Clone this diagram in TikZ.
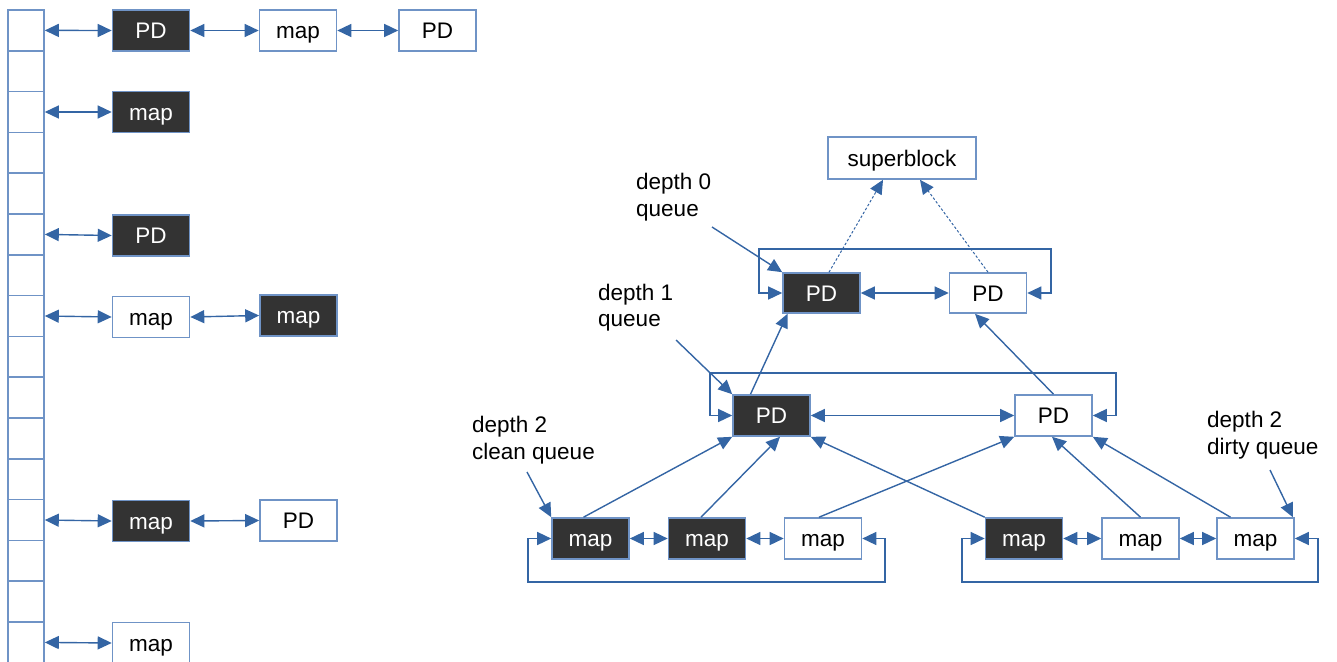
\documentclass[tikz,border=0pt]{standalone}
\usepackage{fontspec}
\setmainfont{Liberation Sans}
\usetikzlibrary{arrows.meta,calc}
\definecolor{ln}{HTML}{3465A4}
\definecolor{bd}{HTML}{6F93C6}
\definecolor{dk}{HTML}{333333}
\tikzset{
 box/.style={draw=bd, line width=1.6pt, minimum width=77pt, minimum height=41pt, inner sep=0pt, text height=18pt, text depth=2pt, font=\fontsize{22.5}{27}\selectfont},
 wbox/.style={box, fill=white, text=black},
 dbox/.style={box, fill=dk, text=white},
 cell/.style={draw=bd, line width=1.6pt, minimum width=36pt, minimum height=40.8pt, inner sep=0pt},
 tip/.tip={Triangle[length=14pt,width=13pt]},
 arr/.style={draw=ln, line width=1.4pt, -tip},
 darr/.style={draw=ln, line width=1.4pt, tip-tip},
 dsharr/.style={draw=ln, line width=1pt, dash pattern=on 2.5pt off 2pt, -tip},
 lbl/.style={align=left, anchor=west, inner sep=0pt, font=\fontsize{22.5}{26.5}\selectfont}
}
\begin{document}
\begin{tikzpicture}[x=1pt,y=-1pt]
\useasboundingbox (0,0) rectangle (1337,661);
\clip (0,0) rectangle (1337,661);
% left column
\foreach \i in {0,...,16} { \node[cell] (c\i) at (26,30.4+40.8*\i) {}; }
\node[dbox] (a1) at (151,30.5) {PD};
\node[wbox] (a2) at (298,30.5) {map};
\node[wbox] (a3) at (437.5,30.5) {PD};
\node[dbox] (b1) at (151,112) {map};
\node[dbox] (d1) at (151,235.5) {PD};
\node[wbox] (e1) at (151,317) {map};
\node[dbox] (e2) at (298.5,315.5) {map};
\node[dbox] (f1) at (151,521) {map};
\node[wbox] (f2) at (298.5,520.5) {PD};
\node[wbox] (g1) at (151,643) {map};
\draw[darr] (c0.east) -- (a1.west);
\draw[darr] (a1.east) -- (a2.west);
\draw[darr] (a2.east) -- (a3.west);
\draw[darr] (c2.east) -- (b1.west);
\draw[darr] (c5.east) -- (d1.west);
\draw[darr] (c7.east) -- (e1.west);
\draw[darr] (e1.east) -- (e2.west);
\draw[darr] (c12.east) -- (f1.west);
\draw[darr] (f1.east) -- (f2.west);
\draw[darr] (c15.east) -- (g1.west);
% right diagram
\node[wbox, minimum width=148pt, minimum height=42pt] (sb) at (902,158) {superblock};
\node[dbox, minimum height=40pt] (p0a) at (821.5,293) {PD};
\node[wbox, minimum height=40pt] (p0b) at (988,293) {PD};
\node[dbox] (p1a) at (771.5,415.5) {PD};
\node[wbox] (p1b) at (1053.5,415.5) {PD};
\node[dbox] (m1) at (590.5,538.5) {map};
\node[dbox] (m2) at (707,538.5) {map};
\node[wbox] (m3) at (823,538.5) {map};
\node[dbox] (m4) at (1024,538.5) {map};
\node[wbox] (m5) at (1140.5,538.5) {map};
\node[wbox] (m6) at (1255.5,538.5) {map};
% labels
\node[lbl] (q0) at (636,197) {depth 0\\queue};
\node[lbl] (q1) at (598,307.5) {depth 1\\queue};
\node[lbl] (q2) at (472,440) {depth 2\\clean queue};
\node[lbl] (q3) at (1207,435) {depth 2\\dirty queue};
\coordinate (s0) at (712,227);
\coordinate (s1) at (676,340);
\coordinate (s2) at (527,472);
\coordinate (s3) at (1270,470);
\draw[arr] (s0) -- (p0a.north west);
\draw[arr] (s1) -- (p1a.north west);
\draw[arr] (s2) -- (m1.north west);
\draw[arr] (s3) -- ([xshift=-2pt]m6.north east);
% dashed to superblock
\draw[dsharr] ([xshift=7.5pt]p0a.north) -- ([xshift=-19pt]sb.south);
\draw[dsharr] (p0b.north) -- ([xshift=18pt]sb.south);
% depth1 to depth0
\draw[arr] ([xshift=-21pt]p1a.north) -- ([xshift=-34pt]p0a.south);
\draw[arr] (p1b.north) -- ([xshift=-13pt]p0b.south);
% depth2 to depth1
\draw[arr] ([xshift=-7pt]m1.north) -- (p1a.south west);
\draw[arr] ([xshift=-6pt]m2.north) -- ([xshift=8.5pt]p1a.south);
\draw[arr] ([xshift=-4pt]m3.north) -- (p1b.south west);
\draw[arr] (m4.north west) -- (p1a.south east);
\draw[arr] (m5.north) -- ([xshift=-1.5pt]p1b.south);
\draw[arr] ([xshift=-25pt]m6.north) -- (p1b.south east);
% horizontal links
\draw[darr] (p0a.east) -- (p0b.west);
\draw[darr] (p1a.east) -- (p1b.west);
\draw[darr] (m1.east) -- (m2.west);
\draw[darr] (m2.east) -- (m3.west);
\draw[darr] (m4.east) -- (m5.west);
\draw[darr] (m5.east) -- (m6.west);
% loops
\coordinate (l0a) at (759,249); \coordinate (l0b) at (1051,249);
\draw[darr] (p0a.west) -| (l0a) -- (l0b) |- (p0b.east);
\coordinate (l1a) at (710,373); \coordinate (l1b) at (1116,373);
\draw[darr] (p1a.west) -| (l1a) -- (l1b) |- (p1b.east);
\coordinate (b1a) at (528,582); \coordinate (b1b) at (885,582);
\draw[darr] (m1.west) -| (b1a) -- (b1b) |- (m3.east);
\coordinate (b2a) at (962,582); \coordinate (b2b) at (1318,582);
\draw[darr] (m4.west) -| (b2a) -- (b2b) |- (m6.east);
\end{tikzpicture}
\end{document}
